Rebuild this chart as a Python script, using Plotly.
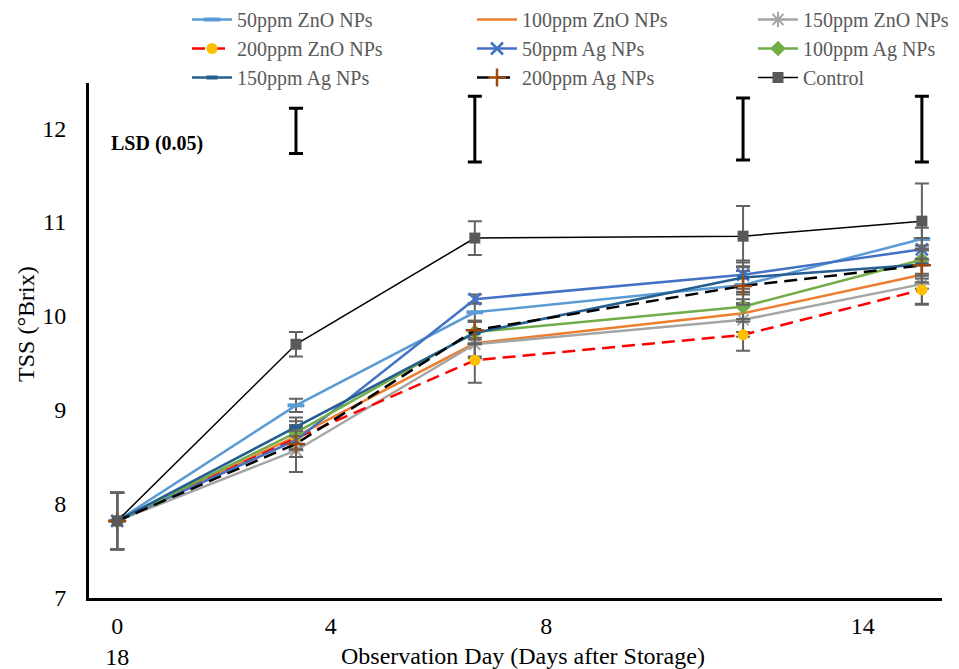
import plotly.graph_objects as go

days = [0, 4, 8, 14, 18]

series_names = ["50ppm ZnO NPs", "100ppm ZnO NPs", "150ppm ZnO NPs",
                "200ppm ZnO NPs", "50ppm Ag NPs", "100ppm Ag NPs",
                "150ppm Ag NPs", "200ppm Ag NPs", "Control"]

zno50 = [7.82, 9.05, 10.04, 10.33, 10.82]
zno100 = [7.82, 8.72, 9.71, 10.03, 10.44]
zno150 = [7.82, 8.57, 9.70, 9.96, 10.34]
zno200 = [7.82, 8.70, 9.53, 9.80, 10.28]
ag50 = [7.82, 8.68, 10.18, 10.44, 10.71]
ag100 = [7.82, 8.76, 9.83, 10.10, 10.60]
ag150 = [7.82, 8.82, 9.82, 10.41, 10.55]
ag200 = [7.82, 8.64, 9.85, 10.32, 10.54]
control = [7.82, 9.70, 10.83, 10.85, 11.01]

err_zno50 = [0.30, 0.07, 0.10, 0.15, 0.12]
err_zno100 = [0.30, 0.12, 0.14, 0.20, 0.15]
err_zno150 = [0.30, 0.23, 0.15, 0.18, 0.22]
err_zno200 = [0.30, 0.12, 0.24, 0.17, 0.15]
err_ag50 = [0.30, 0.10, 0.05, 0.15, 0.12]
err_ag100 = [0.30, 0.12, 0.12, 0.16, 0.15]
err_ag150 = [0.30, 0.10, 0.12, 0.16, 0.15]
err_ag200 = [0.30, 0.14, 0.10, 0.20, 0.18]
err_control = [0.30, 0.13, 0.18, 0.32, 0.40]

lsd_days = [4, 8, 14, 18]
lsd_center = [11.97, 11.99, 11.99, 11.99]
lsd_half = [0.24, 0.35, 0.33, 0.35]

y_ticks = [7, 8, 9, 10, 11, 12]
x_tick_pos = [0, 4.78, 9.6, 16.68]
x_tick_text = ["0<br>18", "4", "8", "14"]

values = [zno50, zno100, zno150, zno200, ag50, ag100, ag150, ag200, control]
errors = [err_zno50, err_zno100, err_zno150, err_zno200, err_ag50,
          err_ag100, err_ag150, err_ag200, err_control]

# legend column for each series (row-major order in 3 columns)
legend_ids = ["legend", "legend2", "legend3",
              "legend", "legend2", "legend3",
              "legend", "legend2", "legend3"]

long_dash = "13px,7px"

styles = [
    dict(color="#5B9BD5", dash="solid", width=2.5, sym="line-ew-open", mcolor="#5B9BD5", size=12, mlw=4),
    dict(color="#ED7D31", dash="solid", width=2.5, sym="circle", mcolor="#ED7D31", size=1, mlw=0),
    dict(color="#A5A5A5", dash="solid", width=2.5, sym="asterisk-open", mcolor="#A5A5A5", size=13, mlw=2),
    dict(color="#FF0000", dash=long_dash, width=2.5, sym="circle", mcolor="#FFC000", size=11, mlw=0),
    dict(color="#4472C4", dash="solid", width=2.5, sym="x-thin-open", mcolor="#4472C4", size=12, mlw=2.5),
    dict(color="#70AD47", dash="solid", width=2.5, sym="diamond", mcolor="#70AD47", size=12, mlw=0),
    dict(color="#255E91", dash="solid", width=2.5, sym="line-ew-open", mcolor="#255E91", size=8, mlw=4),
    dict(color="#000000", dash=long_dash, width=2.5, sym="cross-thin-open", mcolor="#9E480E", size=13, mlw=2.5),
    dict(color="#000000", dash="solid", width=1.5, sym="square", mcolor="#595959", size=11, mlw=0),
]

fig = go.Figure()

for name, vals, errs, st, lg in zip(series_names, values, errors, styles, legend_ids):
    fig.add_trace(go.Scatter(
        x=days, y=vals, name=name, mode="lines+markers", legend=lg,
        line=dict(color=st["color"], dash=st["dash"], width=st["width"]),
        marker=dict(symbol=st["sym"], color=st["mcolor"], size=st["size"],
                    line=dict(color=st["mcolor"], width=st["mlw"])),
        error_y=dict(type="data", array=errs, visible=True,
                     color="#636363", thickness=2, width=7),
    ))

fig.add_trace(go.Scatter(
    x=lsd_days, y=lsd_center, mode="markers", showlegend=False,
    marker=dict(size=1, color="rgba(0,0,0,0)"),
    error_y=dict(type="data", array=lsd_half, visible=True,
                 color="#000000", thickness=3, width=7),
    hoverinfo="skip",
))

fig.add_annotation(
    text="<b>LSD (0.05)</b>", xref="paper", yref="y",
    x=0.024, y=11.84, xanchor="left", yanchor="middle", showarrow=False,
    font=dict(family="Liberation Serif", size=20, color="#000000"),
)

fig.add_annotation(
    text="Observation Day (Days after Storage)", xref="paper", yref="paper",
    x=0.509, y=-0.112, xanchor="center", yanchor="middle", showarrow=False,
    font=dict(family="Liberation Serif", size=24, color="#000000"),
)

fig.add_annotation(
    text="TSS (°Brix)", xref="paper", yref="paper", textangle=-90,
    x=-0.074, y=0.532, xanchor="center", yanchor="middle", showarrow=False,
    font=dict(family="Liberation Serif", size=24, color="#000000"),
)

legend_common = dict(
    orientation="v", xref="container", yref="container",
    yanchor="top", xanchor="left",
    font=dict(family="Liberation Serif", size=20, color="#595959"),
    bgcolor="rgba(0,0,0,0)", itemwidth=40, tracegroupgap=0,
)

fig.update_layout(
    width=959, height=669,
    margin=dict(l=89, r=17, t=83, b=71, autoexpand=False),
    paper_bgcolor="white", plot_bgcolor="white",
    font=dict(family="Liberation Serif", color="#000000"),
    showlegend=True,
    legend=dict(x=187 / 959, y=1.0, **legend_common),
    legend2=dict(x=472 / 959, y=1.0, **legend_common),
    legend3=dict(x=753 / 959, y=1.0, **legend_common),
    xaxis=dict(
        range=[-0.63, 18.45], showgrid=False, zeroline=False,
        showline=True, linecolor="#000000", linewidth=3,
        tickmode="array", tickvals=x_tick_pos, ticktext=x_tick_text,
        ticks="", tickfont=dict(family="Liberation Serif", size=24, color="#000000"),
        ticklabelstandoff=4,
    ),
    yaxis=dict(
        range=[7, 12.48], showgrid=False, zeroline=False,
        showline=True, linecolor="#000000", linewidth=3,
        tickmode="array", tickvals=y_ticks, ticks="",
        tickfont=dict(family="Liberation Serif", size=24, color="#000000"),
        ticklabelstandoff=15,
    ),
)

fig.write_html("out.html", config={"displayModeBar": False},
               post_script="document.body.style.margin='0';")
